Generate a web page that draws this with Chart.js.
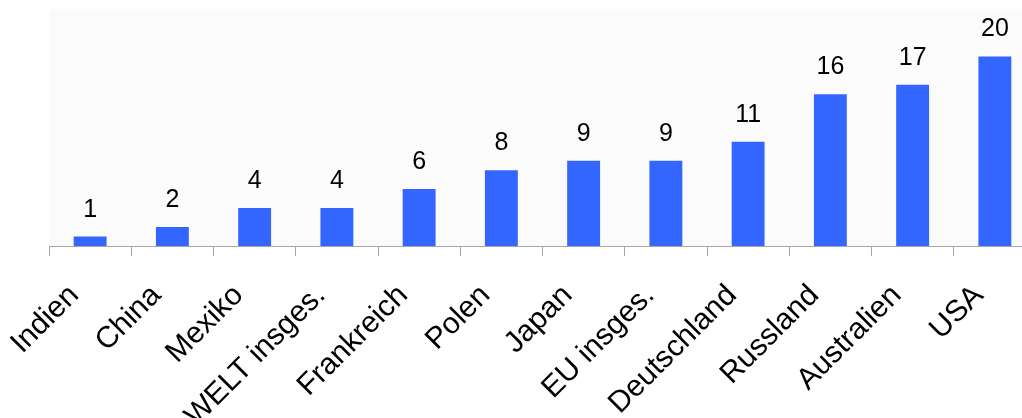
<!DOCTYPE html>
<html lang="de">
<head>
    <meta charset="UTF-8">
    <title>Balkendiagramm</title>
    <script src="https://cdn.jsdelivr.net/npm/chart.js"></script>
    <style>
        html, body {
            margin: 0;
            padding: 0;
            background: #ffffff;
            overflow: hidden;
        }
        #wrap {
            position: relative;
            width: 1040px;
            height: 418px;
        }
    </style>
</head>
<body>
    <div id="wrap"><canvas id="chart"></canvas></div>

    <script>
        const countries = ['Indien', 'China', 'Mexiko', 'WELT insges.', 'Frankreich', 'Polen',
            'Japan', 'EU insges.', 'Deutschland', 'Russland', 'Australien', 'USA'];
        const values = [1, 2, 4, 4, 6, 8, 9, 9, 11, 16, 17, 20];
        const yMin = 0;
        const yMax = 25;

        // light grey plot background
        const plotBg = {
            id: 'plotBg',
            beforeDraw(chart) {
                const a = chart.chartArea;
                const ctx = chart.ctx;
                ctx.save();
                ctx.fillStyle = '#fbfbfb';
                ctx.fillRect(a.left, a.top, a.right - a.left, a.bottom - a.top);
                ctx.restore();
            }
        };

        // value labels above the bars
        const valueLabels = {
            id: 'valueLabels',
            afterDatasetsDraw(chart) {
                const ctx = chart.ctx;
                const meta = chart.getDatasetMeta(0);
                ctx.save();
                ctx.font = '25px "Liberation Sans", Arial, sans-serif';
                ctx.fillStyle = '#000000';
                ctx.textAlign = 'center';
                ctx.textBaseline = 'alphabetic';
                meta.data.forEach((bar, i) => {
                    ctx.fillText(String(values[i]), bar.x, bar.y - 20);
                });
                ctx.restore();
            }
        };

        new Chart(document.getElementById('chart'), {
            type: 'bar',
            data: {
                labels: countries,
                datasets: [{
                    data: values,
                    backgroundColor: '#3366ff',
                    barPercentage: 0.4,
                    categoryPercentage: 1.0
                }]
            },
            options: {
                responsive: true,
                maintainAspectRatio: false,
                animation: false,
                layout: { padding: { left: 49, top: 9, right: 4, bottom: 0 } },
                plugins: {
                    legend: { display: false },
                    tooltip: { enabled: false }
                },
                scales: {
                    x: {
                        afterFit(scale) {
                            scale.height = 172;
                            scale.paddingLeft = 0;
                            scale.paddingRight = 0;
                        },
                        border: { color: '#a6a6a6', width: 1 },
                        grid: {
                            offset: true,
                            drawOnChartArea: false,
                            drawTicks: true,
                            tickLength: 10,
                            tickColor: '#a6a6a6'
                        },
                        ticks: {
                            color: '#000000',
                            font: { family: '"Liberation Sans", Arial, sans-serif', size: 30 },
                            minRotation: 45,
                            maxRotation: 45,
                            autoSkip: false,
                            padding: 22,
                            labelOffset: -16
                        }
                    },
                    y: {
                        display: false,
                        min: yMin,
                        max: yMax
                    }
                }
            },
            plugins: [plotBg, valueLabels]
        });
    </script>
</body>
</html>
